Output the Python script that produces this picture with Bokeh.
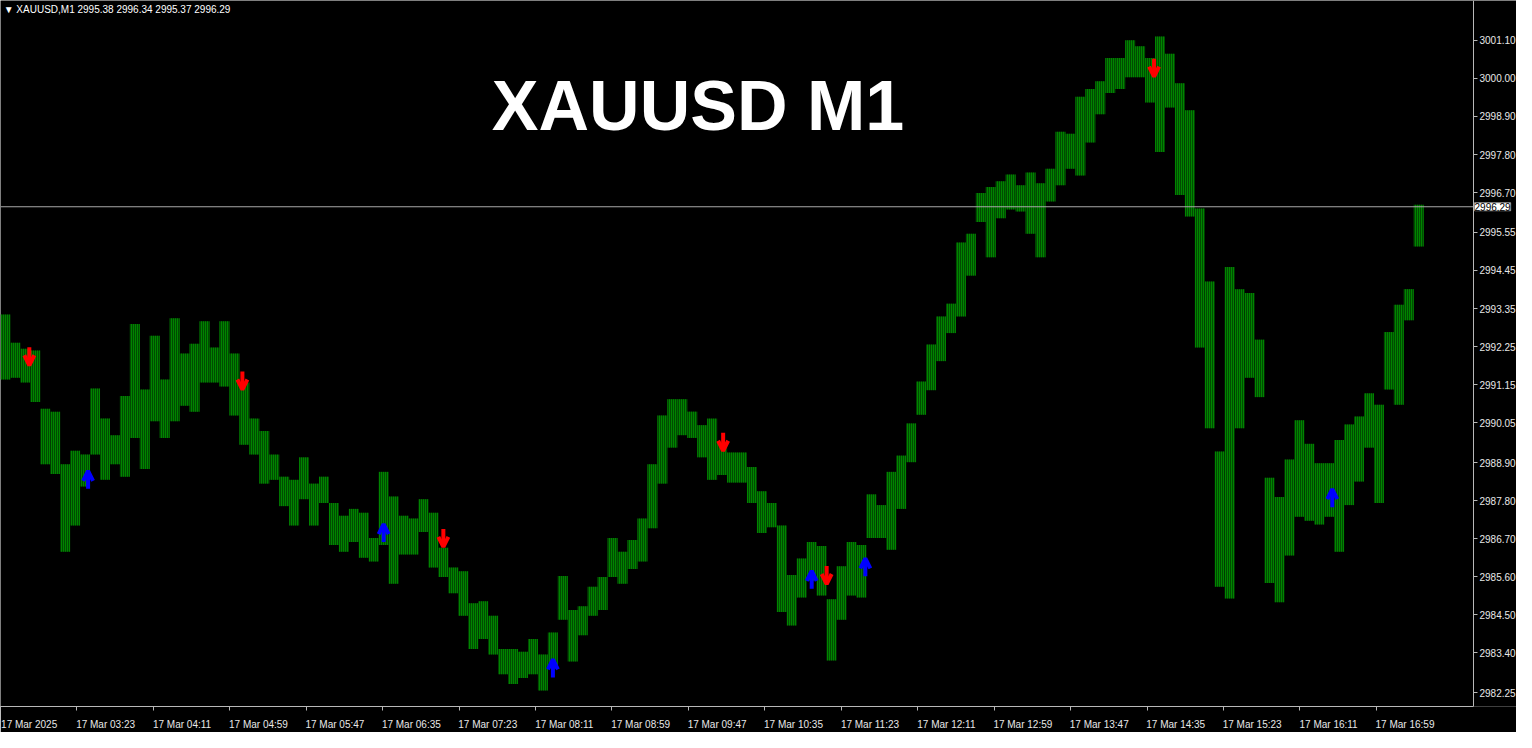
from bokeh.plotting import figure
from bokeh.models import (Range1d, FixedTicker, NumeralTickFormatter, Label, LinearAxis,
                          Arrow, OpenHead, ColumnDataSource)
from bokeh.embed import file_html
from bokeh.resources import INLINE

# ---------------- data ----------------
symbol_title = "XAUUSD M1"
info_text = "\u25BC XAUUSD,M1  2995.38 2996.34 2995.37 2996.29"
last_price = 2996.29

# x axis: minutes from the first label, one label every 48 minutes
time_labels = ["17 Mar 2025", "17 Mar 03:23", "17 Mar 04:11", "17 Mar 04:59",
               "17 Mar 05:47", "17 Mar 06:35", "17 Mar 07:23", "17 Mar 08:11",
               "17 Mar 08:59", "17 Mar 09:47", "17 Mar 10:35", "17 Mar 11:23",
               "17 Mar 12:11", "17 Mar 12:59", "17 Mar 13:47", "17 Mar 14:35",
               "17 Mar 15:23", "17 Mar 16:11", "17 Mar 16:59"]
label_step_min = 48

price_ticks = [3001.10, 3000.00, 2998.90, 2997.80, 2996.70, 2995.55, 2994.45,
               2993.35, 2992.25, 2991.15, 2990.05, 2988.90, 2987.80, 2986.70,
               2985.60, 2984.50, 2983.40, 2982.25]

# price range of consecutive bins of 6.25 minutes each
bar_high = [2993.18, 2992.36, 2992.19, 2992.14, 2990.45, 2990.37, 2988.85, 2989.24,
            2989.13, 2991.04, 2990.17, 2989.69, 2990.82, 2992.90, 2991.01, 2992.56,
            2991.30, 2993.07, 2992.05, 2992.33, 2992.98, 2992.22, 2992.98, 2992.05,
            2991.21, 2990.17, 2989.81, 2989.13, 2988.49, 2988.40, 2989.05, 2988.29,
            2988.49, 2987.73, 2987.36, 2987.56, 2987.45, 2986.72, 2988.63, 2987.92,
            2987.36, 2987.28, 2987.84, 2987.45, 2986.44, 2985.87, 2985.76, 2984.83,
            2984.89, 2984.47, 2983.51, 2983.51, 2983.43, 2983.80, 2983.35, 2983.99,
            2985.62, 2984.64, 2984.75, 2985.31, 2985.59, 2986.72, 2986.32, 2986.66,
            2987.28, 2988.85, 2990.26, 2990.73, 2990.73, 2990.37, 2989.98, 2990.17,
            2989.47, 2989.19, 2989.19, 2988.77, 2988.07, 2987.73, 2987.08, 2985.65,
            2986.13, 2986.60, 2986.49, 2984.95, 2985.90, 2986.60, 2986.52, 2987.98,
            2987.67, 2988.63, 2989.10, 2990.03, 2991.24, 2992.31, 2993.12, 2993.49,
            2995.26, 2995.51, 2996.69, 2996.86, 2997.03, 2997.22, 2996.91, 2997.28,
            2996.97, 2997.39, 2998.46, 2998.40, 2999.47, 2999.69, 2999.92, 3000.59,
            3000.59, 3001.10, 3000.93, 3000.59, 3001.21, 3000.71, 2999.86, 2999.08,
            2996.24, 2994.13, 2989.22, 2994.55, 2993.91, 2993.80, 2992.45, 2988.46,
            2987.90, 2988.99, 2990.12, 2989.44, 2988.88, 2988.88, 2989.55, 2990.00,
            2990.23, 2990.90, 2990.57, 2992.67, 2993.46, 2993.91, 2996.35]
bar_low = [2991.30, 2991.35, 2991.21, 2990.65, 2988.85, 2988.57, 2986.32, 2987.08,
           2988.21, 2989.13, 2988.40, 2988.85, 2988.49, 2989.61, 2988.71, 2990.09,
           2989.61, 2990.09, 2990.54, 2990.37, 2991.21, 2991.21, 2991.10, 2990.26,
           2989.41, 2989.13, 2988.29, 2988.40, 2987.64, 2987.08, 2987.84, 2987.08,
           2987.73, 2986.52, 2986.32, 2986.60, 2986.15, 2986.04, 2986.52, 2985.40,
           2986.24, 2986.24, 2986.89, 2985.87, 2985.59, 2985.12, 2984.47, 2983.51,
           2983.80, 2983.35, 2982.78, 2982.50, 2982.67, 2982.78, 2982.31, 2982.95,
           2984.36, 2983.15, 2983.91, 2984.47, 2984.64, 2985.59, 2985.40, 2985.82,
           2986.04, 2987.00, 2988.29, 2989.33, 2989.69, 2989.61, 2989.05, 2988.40,
           2988.54, 2988.32, 2988.32, 2987.73, 2986.86, 2987.03, 2984.58, 2984.19,
           2985.00, 2985.48, 2985.06, 2983.18, 2984.36, 2985.06, 2985.00, 2986.72,
           2986.72, 2986.38, 2987.56, 2988.91, 2990.28, 2990.99, 2991.83, 2992.64,
           2993.12, 2994.30, 2995.85, 2994.83, 2995.96, 2996.21, 2996.15, 2995.51,
           2994.83, 2996.44, 2996.91, 2997.39, 2997.19, 2998.15, 2998.96, 2999.58,
           2999.69, 3000.03, 3000.03, 2999.30, 2997.87, 2999.16, 2996.63, 2996.01,
           2992.22, 2989.89, 2985.31, 2984.97, 2989.89, 2991.35, 2990.79, 2985.42,
           2984.86, 2986.21, 2987.33, 2987.22, 2987.11, 2987.33, 2986.32, 2987.67,
           2988.35, 2989.33, 2987.73, 2991.01, 2990.57, 2993.01, 2995.14]

# signal arrows (minute, price)
sell_min = [18.1, 151.9, 278.1, 453.8, 518.8, 724.4]
sell_price = [2991.97, 2991.27, 2986.72, 2989.50, 2985.65, 3000.31]
buy_min = [55.0, 240.6, 346.9, 509.4, 543.1, 836.3]
buy_price = [2988.40, 2986.86, 2982.95, 2985.51, 2985.87, 2987.87]

# ---------------- styling ----------------
bin_min = 6.25
chart_end = 925          # where the price scale sits
x_end = 952              # frame continues under the price scale
y_lo, y_hi = 2981.85, 3002.25
axis_gray = "#b8b8b8"
label_color = "#e8e8e8"
font = "Liberation Sans"
label_shift = 18         # time labels start at their tick

p = figure(width=1516, height=732, output_backend="svg", toolbar_location=None,
           x_range=Range1d(0, x_end), y_range=Range1d(y_lo, y_hi),
           y_axis_location="right",
           background_fill_color="black", border_fill_color="black",
           min_border_left=0, min_border_top=0, min_border_right=0,
           min_border_bottom=0)
p.outline_line_color = None
p.xgrid.visible = False
p.ygrid.visible = False

# price scale, drawn at the chart's right edge
ya = p.yaxis[0]
ya.fixed_location = chart_end
ya.ticker = FixedTicker(ticks=price_ticks)
ya.formatter = NumeralTickFormatter(format="0.00")
ya.major_label_standoff = 2
ya.axis_line_color = axis_gray
ya.major_tick_line_color = axis_gray
ya.major_tick_out = 4
ya.major_tick_in = 0
ya.minor_tick_line_color = None
ya.major_label_text_color = label_color
ya.major_label_text_font = font
ya.major_label_text_font_size = "10px"

# time axis: tick marks on the main axis, labels on a second axis just below it
x_ticks = [i * label_step_min for i in range(len(time_labels))]
xa = p.xaxis[0]
xa.ticker = FixedTicker(ticks=[], minor_ticks=x_ticks)
xa.bounds = (0, chart_end)
xa.axis_line_color = axis_gray
xa.major_tick_line_color = None
xa.minor_tick_line_color = axis_gray
xa.minor_tick_out = 4
xa.minor_tick_in = 0
xa.major_label_standoff = 0

lab_ticks = [t + label_shift for t in x_ticks]
xb = LinearAxis(ticker=FixedTicker(ticks=lab_ticks),
                major_label_overrides={t: lab for t, lab in zip(lab_ticks, time_labels)},
                axis_line_color=None, major_tick_line_color=None,
                minor_tick_line_color=None, major_label_standoff=2,
                major_label_text_color=label_color, major_label_text_font=font,
                major_label_text_font_size="10px")
p.add_layout(xb, "below")

# bars (thin vertical strokes like M1 bars)
centers = [(i + 0.5) * bin_min for i in range(len(bar_high))]
src = ColumnDataSource(dict(x=centers, top=bar_high, bottom=bar_low))
p.vbar(x="x", top="top", bottom="bottom", width=bin_min, source=src,
       fill_color="#004c00", line_color=None,
       hatch_pattern="vertical_line", hatch_color="#00aa00",
       hatch_scale=2, hatch_weight=1.2)

# current price line + box
p.segment(x0=[0], x1=[chart_end], y0=[last_price], y1=[last_price],
          line_color="#a8a8a8", line_width=1)
p.add_layout(Label(x=chart_end, y=last_price, x_offset=1, text=f"{last_price:.2f}",
                   text_font=font, text_font_size="10px", text_color="black",
                   text_baseline="middle", text_align="left",
                   background_fill_color="white", border_line_color="#909090"))

# arrows
half = 0.26
sell_src = ColumnDataSource(dict(x=sell_min, y0=[v + half for v in sell_price],
                                 y1=[v - half for v in sell_price]))
buy_src = ColumnDataSource(dict(x=buy_min, y0=[v - half for v in buy_price],
                                y1=[v + half for v in buy_price]))
p.add_layout(Arrow(end=OpenHead(size=10, line_width=4, line_color="#ff0000"),
                   source=sell_src, x_start="x", y_start="y0", x_end="x", y_end="y1",
                   line_color="#ff0000", line_width=4))
p.add_layout(Arrow(end=OpenHead(size=10, line_width=4, line_color="#0000ff"),
                   source=buy_src, x_start="x", y_start="y0", x_end="x", y_end="y1",
                   line_color="#0000ff", line_width=4))

# texts
p.add_layout(Label(x=2, y=y_hi, y_offset=-3, text=info_text, text_font=font,
                   text_font_size="10px", text_color="white", text_baseline="top",
                   text_align="left"))
p.add_layout(Label(x=438, y=2999.2, text=symbol_title, text_font=font,
                   text_font_style="bold", text_font_size="70px", text_color="white",
                   text_align="center", text_baseline="middle"))

open("out.html", "w").write(file_html(p, INLINE))
